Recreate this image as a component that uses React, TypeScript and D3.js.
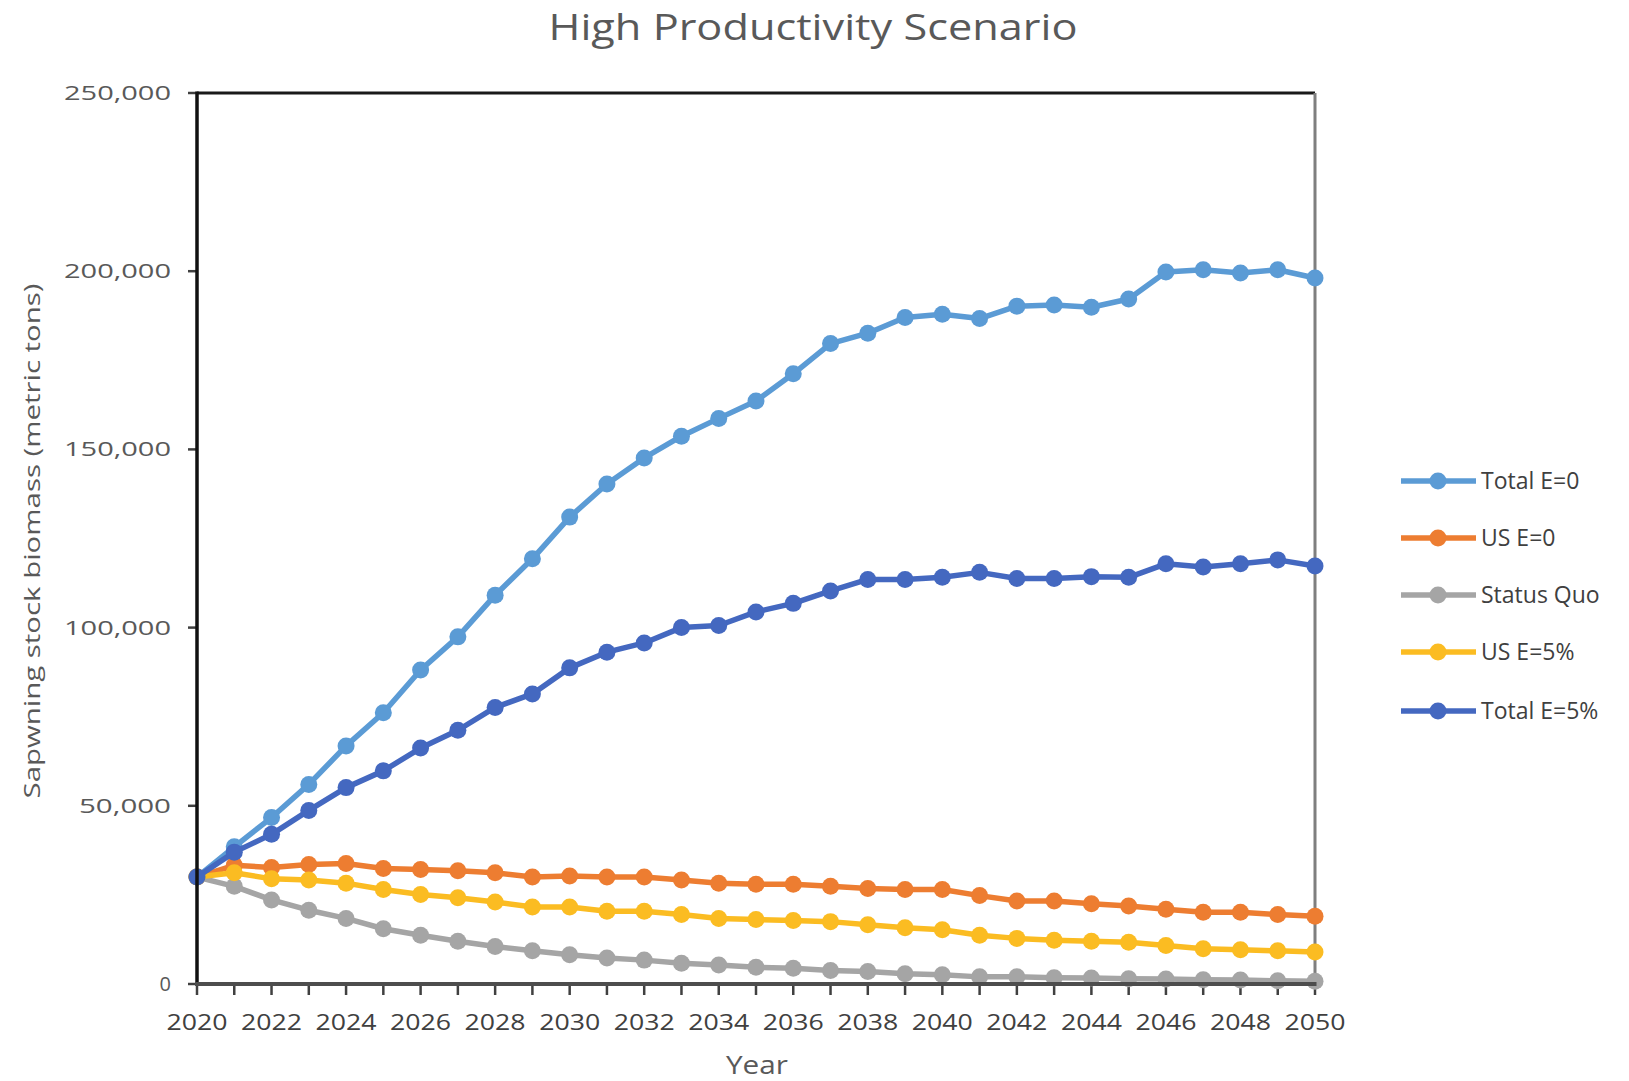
import React from "react";
import * as d3 from "d3";

// Projection years
const years: number[] = d3.range(2020, 2051);

// Spawning stock biomass (metric tons) per scenario
const totalE0: number[] = [
  30000, 38500, 46700, 56000, 66800, 76100, 88100, 97400, 109100, 119300,
  131000, 140300, 147600, 153700, 158700, 163600, 171200, 179700, 182600, 187000,
  187900, 186700, 190200, 190500, 189900, 192200, 199800, 200400, 199500, 200400,
  198100,
];
const usE0: number[] = [
  30000, 33300, 32700, 33500, 33800, 32400, 32100, 31800, 31200, 30000,
  30300, 30000, 30000, 29200, 28300, 28000, 28000, 27400, 26800, 26500,
  26500, 24800, 23300, 23300, 22500, 21900, 21000, 20100, 20100, 19500,
  19000,
];
const statusQuo: number[] = [
  30000, 27400, 23600, 20700, 18400, 15500, 13700, 12000, 10500, 9300,
  8200, 7300, 6700, 5800, 5300, 4700, 4400, 3800, 3500, 2900,
  2600, 2000, 2000, 1750, 1700, 1500, 1400, 1200, 1100, 900,
  800,
];
const usE5: number[] = [
  30000, 31200, 29500, 29200, 28300, 26500, 25100, 24200, 23000, 21600,
  21600, 20400, 20400, 19500, 18400, 18100, 17800, 17500, 16600, 15800,
  15200, 13700, 12800, 12300, 12000, 11700, 10800, 9900, 9600, 9300,
  9000,
];
const totalE5: number[] = [
  30000, 37000, 42000, 48700, 55100, 59800, 66200, 71200, 77600, 81400,
  88700, 93100, 95700, 100000, 100600, 104400, 106800, 110300, 113500, 113500,
  114100, 115500, 113800, 113800, 114300, 114100, 117900, 117000, 117900, 119000,
  117300,
];

const seriesNames: string[] = ["Total E=0", "US E=0", "Status Quo", "US E=5%", "Total E=5%"];
const seriesValues: number[][] = [totalE0, usE0, statusQuo, usE5, totalE5];
const seriesColors: string[] = ["#5b9bd5", "#ed7d31", "#a5a5a5", "#fbbc22", "#4468c0"];

const yTicks: number[] = [0, 50000, 100000, 150000, 200000, 250000];
const xLabelYears: number[] = d3.range(2020, 2051, 2);

const W = 1629;
const H = 1081;
const left = 197;
const right = 1315;
const top = 93;
const bottom = 984;

const FONT = "'Open Sans', 'Liberation Sans', sans-serif";

export default function App() {
  const x = d3.scaleLinear().domain([2020, 2050]).range([left, right]);
  const y = d3.scaleLinear().domain([0, 250000]).range([bottom, top]);
  const line = d3
    .line<number>()
    .x((_, i) => x(years[i]))
    .y((v) => y(v));
  const fmt = d3.format(",");

  const legendRows = [481, 538, 595, 652, 711];

  return (
    <svg
      width={W}
      height={H}
      viewBox={`0 0 ${W} ${H}`}
      style={{ position: "absolute", left: 0, top: 0, background: "#fff" }}
    >
      <rect x={0} y={0} width={W} height={H} fill="#fff" />

      {/* Title */}
      <text
        x={813}
        y={40}
        textAnchor="middle"
        fontFamily={FONT}
        fontSize={36}
        fill="#595959"
        textLength={529}
        lengthAdjust="spacingAndGlyphs"
      >
        High Productivity Scenario
      </text>

      {/* Plot frame */}
      <line x1={left} x2={right} y1={top} y2={top} stroke="#1a1a1a" strokeWidth={3} />
      <line x1={right} x2={right} y1={top} y2={bottom} stroke="#7f7f7f" strokeWidth={3} />

      {/* Y axis */}
      {yTicks.map((t) => (
        <g key={t}>
          <line x1={left - 9} x2={left} y1={y(t)} y2={y(t)} stroke="#404040" strokeWidth={2.5} />
          <text
            x={171}
            y={y(t)}
            dy="0.35em"
            textAnchor="end"
            fontFamily={FONT}
            fontSize={20}
            fill="#595959"
            textLength={t === 0 ? undefined : t >= 100000 ? 107 : 92}
            lengthAdjust="spacingAndGlyphs"
          >
            {fmt(t)}
          </text>
        </g>
      ))}

      {/* X axis ticks and labels */}
      {years.map((yr) => (
        <line
          key={yr}
          x1={x(yr)}
          x2={x(yr)}
          y1={bottom}
          y2={bottom + 11}
          stroke="#404040"
          strokeWidth={2.5}
        />
      ))}
      {xLabelYears.map((yr) => (
        <text
          key={yr}
          x={x(yr)}
          y={1023}
          dy="0.35em"
          textAnchor="middle"
          fontFamily={FONT}
          fontSize={21}
          fill="#404040"
          textLength={61}
          lengthAdjust="spacingAndGlyphs"
        >
          {yr}
        </text>
      ))}

      {/* Axis titles */}
      <text
        transform={`translate(40, 541) rotate(-90)`}
        textAnchor="middle"
        fontFamily={FONT}
        fontSize={22}
        fill="#595959"
        textLength={515}
        lengthAdjust="spacingAndGlyphs"
      >
        Sapwning stock biomass (metric tons)
      </text>
      <text
        x={757}
        y={1074}
        textAnchor="middle"
        fontFamily={FONT}
        fontSize={25}
        fill="#595959"
        textLength={62}
        lengthAdjust="spacingAndGlyphs"
      >
        Year
      </text>

      {/* Series */}
      {seriesValues.map((vals, si) => (
        <g key={seriesNames[si]}>
          <path d={line(vals) ?? ""} fill="none" stroke={seriesColors[si]} strokeWidth={5.5} strokeLinejoin="round" />
          {vals.map((v, i) => (
            <circle key={i} cx={x(years[i])} cy={y(v)} r={8.5} fill={seriesColors[si]} />
          ))}
        </g>
      ))}

      {/* Left and bottom axis lines on top of the series */}
      <line x1={left} x2={left} y1={top - 1.5} y2={bottom} stroke="#111" strokeWidth={3.5} />
      <line x1={left - 2} x2={right + 1.5} y1={bottom} y2={bottom} stroke="#4d4d4d" strokeWidth={4} />

      {/* Legend */}
      {seriesNames.map((name, si) => (
        <g key={name} transform={`translate(0, ${legendRows[si]})`}>
          <line x1={1401} x2={1476} y1={0} y2={0} stroke={seriesColors[si]} strokeWidth={5.5} />
          <circle cx={1438} cy={0} r={8.5} fill={seriesColors[si]} />
          <text
            x={1481}
            y={0}
            dy="0.35em"
            fontFamily={FONT}
            fontSize={23}
            fill="#404040"
          >
            {name}
          </text>
        </g>
      ))}
    </svg>
  );
}
